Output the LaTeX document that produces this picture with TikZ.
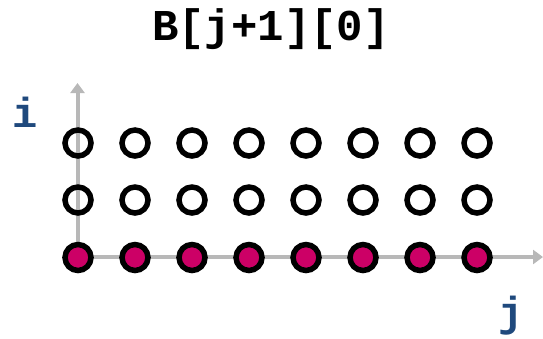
\documentclass[tikz,border=0pt]{standalone}
\usepackage{fontspec}
\setmonofont{Liberation Mono}
\usetikzlibrary{arrows.meta}
\definecolor{axisgray}{RGB}{184,184,184}
\definecolor{labelblue}{RGB}{31,73,125}
\definecolor{dotmag}{RGB}{204,0,102}
\tikzset{
  axis/.style={draw=axisgray, line width=4pt, -{Triangle[length=10pt,width=14pt]}},
  emptydot/.style={circle, draw=black, line width=5.5pt, minimum size=26pt, inner sep=0pt},
  fulldot/.style={emptydot, fill=dotmag},
  axlabel/.style={font=\ttfamily\bfseries\fontsize{42}{42}\selectfont, text=labelblue, inner sep=0pt, anchor=base},
  titlelabel/.style={font=\ttfamily\bfseries\fontsize{44}{44}\selectfont, text=black, inner sep=0pt, anchor=base}
}
\begin{document}
\begin{tikzpicture}[x=1pt,y=-1pt]
\useasboundingbox (0,0) rectangle (543,338);
\node[titlelabel] (title) at (271,40) {B[j+1][0]};
\coordinate (o) at (77.5,257);
\coordinate (xend) at (543,257);
\coordinate (yend) at (77.5,83);
\draw[axis] (o) -- (xend);
\draw[axis] (o) -- (yend);
\node[axlabel] (ilab) at (25,127) {i};
\node[axlabel] (jlab) at (511,326) {j};
\foreach \k in {0,...,7} {
  \node[emptydot] (c2-\k) at (78+57*\k,143) {};
  \node[emptydot] (c1-\k) at (78+57*\k,200) {};
  \node[fulldot] (c0-\k) at (78+57*\k,257.5) {};
}
\end{tikzpicture}
\end{document}
